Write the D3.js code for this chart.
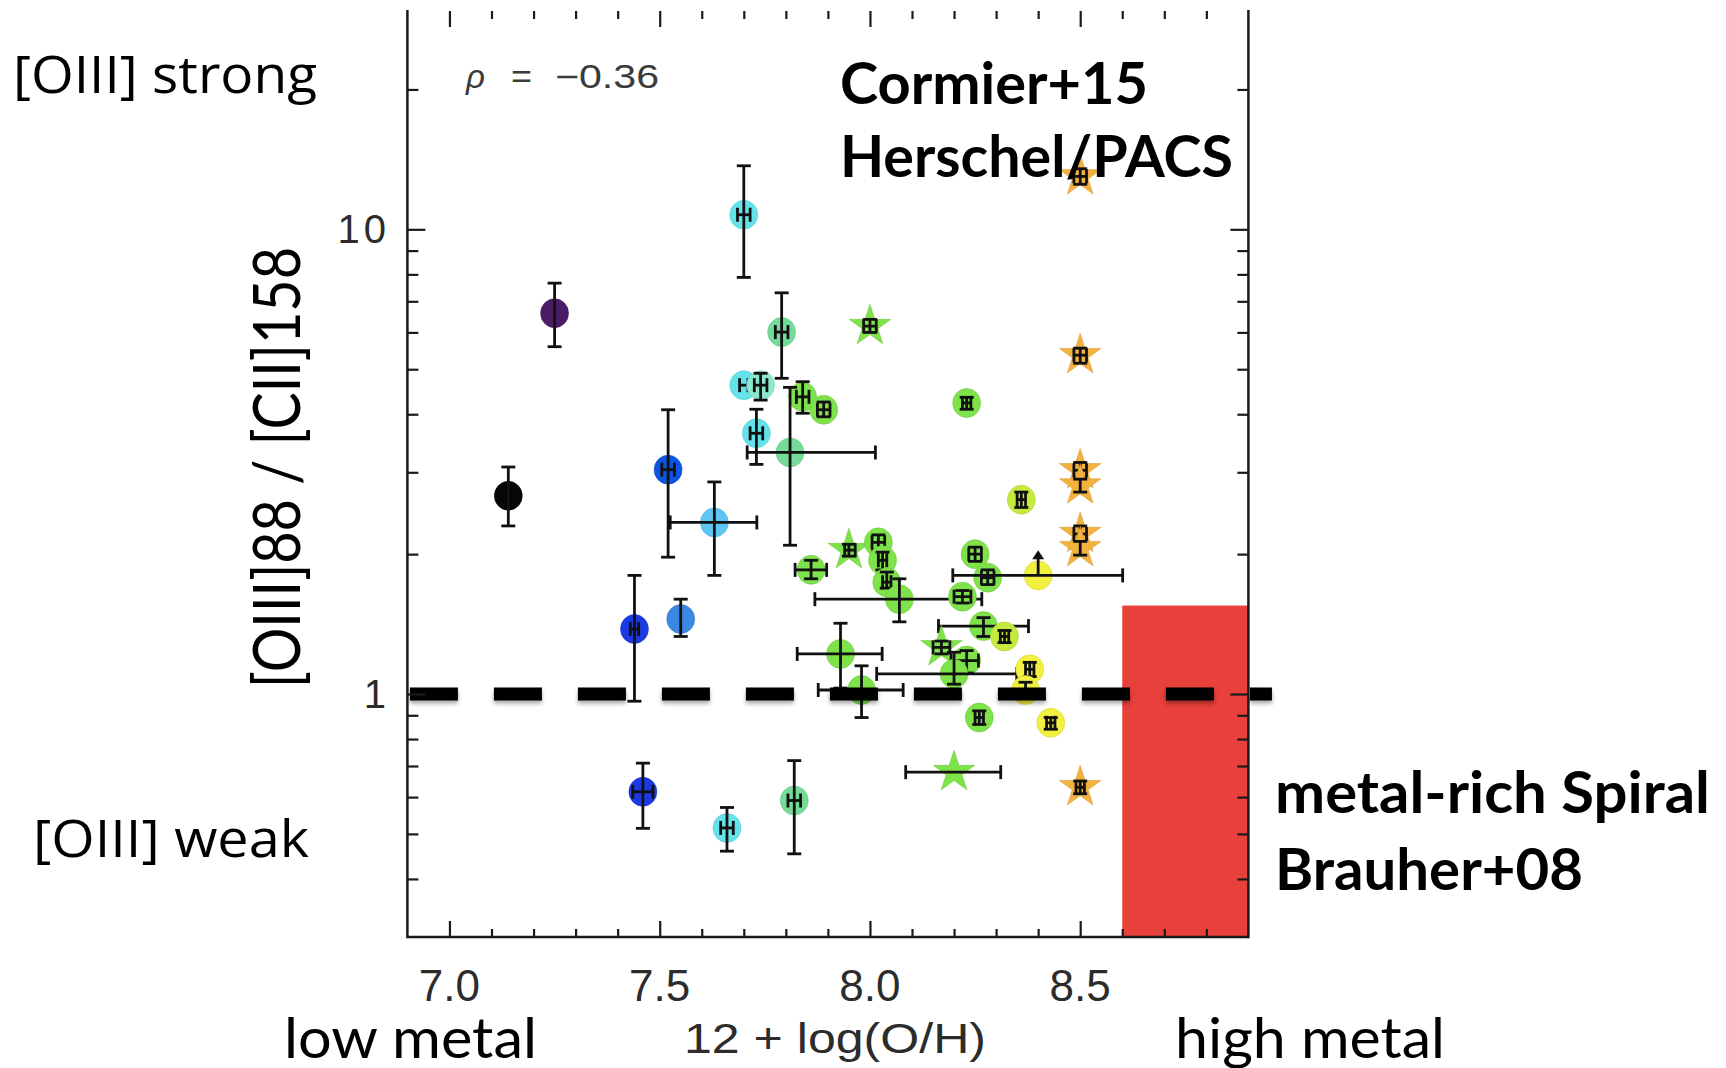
<!DOCTYPE html>
<html>
<head>
<meta charset="utf-8">
<script src="https://cdn.jsdelivr.net/npm/d3@7"></script>
<style>
  body { margin: 0; background: #fff; }
  svg { display: block; }
</style>
</head>
<body>
<svg id="chart"></svg>
<script>
// metallicity 12+log(O/H) of each galaxy
const galaxyX = [7.14, 7.25, 7.70, 8.00, 8.50, 8.50, 7.79, 7.70, 7.74, 7.84,
                 7.89, 8.23, 7.73, 7.81, 7.52, 7.63, 8.36, 8.50, 8.50, 8.50,
                 8.50, 7.95, 8.02, 8.03, 8.04, 8.07, 8.25, 8.28, 8.40, 8.22,
                 7.86, 8.27, 8.32, 7.93, 8.17, 8.23, 8.20, 8.38, 7.98, 8.37,
                 8.26, 8.43, 8.20, 8.50, 7.44, 7.55, 7.46, 7.66, 7.82];
// [OIII]88 / [CII]158 ratio
const ratioY = [2.67, 6.60, 10.75, 6.19, 5.36, 13.0, 6.01, 4.62, 4.62, 4.36,
                4.09, 4.23, 3.64, 3.31, 3.04, 2.34, 2.62, 3.03, 2.81, 2.21,
                2.06, 2.04, 2.12, 1.94, 1.74, 1.60, 2.00, 1.78, 1.80, 1.62,
                1.85, 1.40, 1.33, 1.22, 1.26, 1.18, 1.105, 1.13, 1.02, 1.02,
                0.89, 0.867, 0.679, 0.63, 1.38, 1.45, 0.616, 0.515, 0.59];
const ratioLo = [2.30, 5.59, 7.88, 6.00, 5.15, 12.5, 4.78, null, 4.29, 4.02,
                 3.95, 4.10, 3.12, 2.09, 1.97, 1.80, 2.52, 2.92, 2.72, 2.12,
                 1.99, 1.98, 2.04, 1.85, 1.69, 1.43, 1.93, 1.72, null, 1.57,
                 1.77, 1.33, 1.29, 1.03, 1.22, 1.11, 1.05, 1.09, 0.89, 0.98,
                 0.86, 0.84, null, 0.61, 0.965, 1.33, 0.514, 0.459, 0.453];
const ratioHi = [3.08, 7.66, 13.7, 6.40, 5.55, 13.5, 7.30, null, 4.90, 4.70,
                 4.25, 4.35, 4.10, 4.57, 4.09, 2.86, 2.72, 3.15, 2.90, 2.30,
                 2.13, 2.10, 2.20, 2.02, 1.83, 1.77, 2.07, 1.85, null, 1.67,
                 1.94, 1.46, 1.37, 1.42, 1.30, 1.24, 1.23, 1.17, 1.15, 1.06,
                 0.92, 0.89, null, 0.65, 1.80, 1.60, 0.71, 0.57, 0.719];
const metalLo = [null, null, 7.685, 7.985, 8.485, 8.485, 7.775, 7.69, 7.725, 7.825,
                 7.875, 8.22, 7.715, 7.708, 7.505, 7.525, 8.35, 8.485, null, 8.485,
                 null, 7.94, 8.005, 8.02, 8.03, 7.869, 8.235, 8.265, 8.197, 8.20,
                 7.822, 8.163, 8.31, 7.827, 8.15, 8.193, 8.016, 8.37, 7.877, null,
                 8.25, 8.42, 8.085, 8.49, 7.43, null, 7.436, 7.645, 7.805];
const metalHi = [null, null, 7.715, 8.015, 8.515, 8.515, 7.805, 7.71, 7.755, 7.855,
                 7.905, 8.24, 7.745, 8.013, 7.535, 7.731, 8.37, 8.515, null, 8.515,
                 null, 7.965, 8.035, 8.04, 8.05, 8.266, 8.265, 8.295, 8.601, 8.24,
                 7.897, 8.377, 8.33, 8.029, 8.19, 8.258, 8.349, 8.39, 8.079, null,
                 8.27, 8.44, 8.311, 8.51, 7.45, null, 7.484, 7.675, 7.835];
const markShape = ['circle', 'circle', 'circle', 'star', 'star', 'star', 'circle', 'circle', 'circle', 'circle',
                   'circle', 'circle', 'circle', 'circle', 'circle', 'circle', 'circle', 'star', 'star', 'star',
                   'star', 'star', 'circle', 'circle', 'circle', 'circle', 'circle', 'circle', 'circle', 'circle',
                   'circle', 'circle', 'circle', 'circle', 'star', 'circle', 'circle', 'circle', 'circle', 'circle',
                   'circle', 'circle', 'star', 'star', 'circle', 'circle', 'circle', 'circle', 'circle'];
const colorGroup = ['black', 'purple', 'cyan', 'green', 'orange', 'orange', 'mint', 'cyan', 'aqua', 'green',
                    'green', 'green', 'cyan', 'mint', 'blue', 'sky', 'lime', 'orange', 'orange', 'orange',
                    'orange', 'green', 'green', 'green', 'green', 'green', 'green', 'green', 'yellow', 'green',
                    'green', 'green', 'lime', 'green', 'green', 'green', 'green', 'yellow', 'green', 'yellow',
                    'green', 'yellow', 'green', 'orange', 'navy', 'azure', 'navy', 'cyan', 'mint'];
// index of the point that is a lower limit, and the value its arrow reaches
const lowerLimitIndex = [28];
const lowerLimitTo = [2.04];

// metal-rich spiral region (Brauher+08)
const spiralX = [8.6, 8.9];
const spiralY = [0.3, 1.55];
const equalRatio = 1;

const xMajor = [7.0, 7.5, 8.0, 8.5];
const xMinor = [7.1, 7.2, 7.3, 7.4, 7.6, 7.7, 7.8, 7.9, 8.1, 8.2, 8.3, 8.4, 8.6, 8.7, 8.8];
const yMajor = [1, 10];
const yMinor = [0.4, 0.5, 0.6, 0.7, 0.8, 0.9, 2, 3, 4, 5, 6, 7, 8, 9, 20];

const palette = {
  black: '#060606', purple: '#4a1c66', navy: '#1c3ae2', blue: '#0c55e2',
  azure: '#3a88e2', sky: '#5ec6f2', cyan: '#64e2ea', aqua: '#8ae8cc',
  mint: '#74dc98', green: '#7ee24a', lime: '#c4ea3c', yellow: '#f2f040',
  orange: '#f3b13e'
};

const width = 1726, height = 1068;
const svg = d3.select('#chart').attr('width', width).attr('height', height);

const x = d3.scaleLinear().domain([6.9, 8.9]).range([407.4, 1248.4]);
const y = d3.scaleLog().domain([0.3, 29.5]).range([937, 11]);

const defs = svg.append('defs');
const shadow = defs.append('filter').attr('id', 'shadow')
  .attr('filterUnits', 'userSpaceOnUse')
  .attr('x', 0).attr('y', 0).attr('width', width).attr('height', height);
shadow.append('feDropShadow').attr('dx', 0).attr('dy', 3).attr('stdDeviation', 2)
  .attr('flood-color', '#000').attr('flood-opacity', 0.35);

// red box
svg.append('rect')
  .attr('x', x(spiralX[0])).attr('y', y(spiralY[1]))
  .attr('width', x(spiralX[1]) - x(spiralX[0]))
  .attr('height', y(spiralY[0]) - y(spiralY[1]))
  .attr('fill', '#e8403a');

// points
const pts = d3.range(galaxyX.length);
const cap = 7;
const marks = svg.append('g');
const star = d3.symbol(d3.symbolStar).size(540);

pts.forEach(i => {
  const cx = x(galaxyX[i]), cy = y(ratioY[i]);
  const col = palette[colorGroup[i]];
  const g = marks.append('g');
  if (markShape[i] === 'star') {
    g.append('path').attr('d', star())
      .attr('transform', `translate(${cx},${cy})`)
      .attr('fill', col).attr('stroke', d3.color(col).darker(0.4)).attr('stroke-width', 1).attr('stroke-opacity', 0.5);
  } else {
    g.append('ellipse').attr('cx', cx).attr('cy', cy).attr('rx', 14).attr('ry', 14.5)
      .attr('fill', col).attr('stroke', d3.color(col).darker(0.4)).attr('stroke-width', 1).attr('stroke-opacity', 0.5);
  }
  const eb = g.append('g').attr('stroke', '#111').attr('stroke-width', 2.8).attr('fill', 'none');
  if (ratioLo[i] != null) {
    const y0 = y(ratioLo[i]), y1 = y(ratioHi[i]);
    eb.append('line').attr('x1', cx).attr('x2', cx).attr('y1', y0).attr('y2', y1);
    eb.append('line').attr('x1', cx - cap).attr('x2', cx + cap).attr('y1', y0).attr('y2', y0);
    eb.append('line').attr('x1', cx - cap).attr('x2', cx + cap).attr('y1', y1).attr('y2', y1);
  }
  if (metalLo[i] != null) {
    const x0 = x(metalLo[i]), x1 = x(metalHi[i]);
    eb.append('line').attr('x1', x0).attr('x2', x1).attr('y1', cy).attr('y2', cy);
    eb.append('line').attr('x1', x0).attr('x2', x0).attr('y1', cy - cap).attr('y2', cy + cap);
    eb.append('line').attr('x1', x1).attr('x2', x1).attr('y1', cy - cap).attr('y2', cy + cap);
  }
});

// lower-limit arrows
lowerLimitIndex.forEach((i, k) => {
  const cx = x(galaxyX[i]), y0 = y(ratioY[i]), y1 = y(lowerLimitTo[k]);
  marks.append('line').attr('x1', cx).attr('x2', cx).attr('y1', y0).attr('y2', y1 + 4)
    .attr('stroke', '#111').attr('stroke-width', 2.8);
  marks.append('path')
    .attr('d', `M${cx - 6},${y1 + 9}L${cx},${y1}L${cx + 6},${y1 + 9}Z`)
    .attr('fill', '#111');
});

// dashed ratio = 1 line
svg.append('line')
  .attr('x1', x(6.906)).attr('x2', x(8.956))
  .attr('y1', y(equalRatio)).attr('y2', y(equalRatio))
  .attr('stroke', '#000').attr('stroke-width', 13)
  .attr('stroke-dasharray', '48 36')
  .attr('filter', 'url(#shadow)');

// frame and ticks
const frame = svg.append('g').attr('stroke', '#1a1a1a').attr('stroke-width', 2.5);
const plotTop = y.range()[1], plotBottom = y.range()[0];
const plotLeft = x.range()[0], plotRight = x.range()[1];
frame.append('line').attr('x1', plotLeft).attr('x2', plotLeft).attr('y1', plotTop - 1).attr('y2', plotBottom + 1.2);
frame.append('line').attr('x1', plotRight).attr('x2', plotRight).attr('y1', plotTop - 1).attr('y2', plotBottom + 1.2);
frame.append('line').attr('x1', plotLeft).attr('x2', plotRight).attr('y1', plotBottom).attr('y2', plotBottom);

function addAxis(axis, tickVals, size, transform) {
  const g = svg.append('g').attr('transform', transform)
    .call(axis.tickValues(tickVals).tickSize(size).tickFormat(''));
  g.select('.domain').remove();
  g.selectAll('line').attr('stroke', '#1a1a1a').attr('stroke-width', 2.2);
}
addAxis(d3.axisBottom(x), xMajor, -16, `translate(0,${plotBottom})`);
addAxis(d3.axisBottom(x), xMinor, -8, `translate(0,${plotBottom})`);
addAxis(d3.axisTop(x), xMajor, -16, `translate(0,${plotTop})`);
addAxis(d3.axisTop(x), xMinor, -8, `translate(0,${plotTop})`);
addAxis(d3.axisLeft(y), yMajor, -18, `translate(${plotLeft},0)`);
addAxis(d3.axisLeft(y), yMinor, -11, `translate(${plotLeft},0)`);
addAxis(d3.axisRight(y), yMajor, -18, `translate(${plotRight},0)`);
addAxis(d3.axisRight(y), yMinor, -11, `translate(${plotRight},0)`);

// tick labels
const helv = "'Liberation Sans', Arial, sans-serif";
svg.append('g').selectAll('text').data(xMajor).join('text')
  .attr('x', d => x(d)).attr('y', 1001)
  .attr('text-anchor', 'middle')
  .attr('font-family', helv).attr('font-size', 44).attr('fill', '#2c2c2c')
  .text(d => d3.format('.1f')(d));
svg.append('g').selectAll('text').data(yMajor).join('text')
  .attr('x', 390).attr('y', d => y(d) + 14)
  .attr('text-anchor', 'end')
  .attr('font-family', helv).attr('font-size', 40).attr('fill', '#2c2c2c')
  .attr('letter-spacing', 4)
  .text(d => d);

// axis titles and notes
function note(txt, xPos, yPos, opts) {
  const t = svg.append('text').attr('x', xPos).attr('y', yPos)
    .attr('font-family', opts.family).attr('font-size', opts.size)
    .attr('font-weight', opts.weight || 'normal').attr('fill', opts.fill || '#000')
    .attr('font-style', opts.style || 'normal')
    .text(txt);
  if (opts.len) t.attr('textLength', opts.len).attr('lengthAdjust', 'spacingAndGlyphs');
  if (opts.anchor) t.attr('text-anchor', opts.anchor);
  if (opts.rotate) t.attr('transform', opts.rotate);
  return t;
}
note('12 + log(O/H)', 684, 1053, { family: helv, size: 42, fill: '#2c2c2c', len: 302 });
note('[OIII]88 / [CII]158', 0, 0, { family: 'Lato, sans-serif', size: 66, len: 441, anchor: 'middle',
  rotate: 'translate(300,467.5) rotate(-90)' });

// correlation coefficient, spaced like the original
const rhoFont = { family: helv, size: 33, fill: '#3a3a3a' };
note('ρ', 466, 88, { ...rhoFont, style: 'italic' });
note('=', 511, 88, { ...rhoFont, len: 21 });
note('−0.36', 555, 88, { ...rhoFont, len: 104 });

const sideFont = { family: "'Open Sans', sans-serif", size: 51 };
note('[OIII] strong', 13, 93, { ...sideFont, len: 304 });
note('[OIII] weak', 33, 857, { ...sideFont, len: 276 });

const bold = { family: 'Lato, sans-serif', size: 57, weight: 'bold' };
note('Cormier+15', 840, 103.5, { ...bold, len: 308 });
note('Herschel/PACS', 840, 177, { ...bold, len: 393 });
note('metal-rich Spiral', 1275, 813, { ...bold, len: 435 });
note('Brauher+08', 1275, 890, { ...bold, len: 308 });

const plain = { family: 'Lato, sans-serif', size: 56 };
note('low metal', 284, 1058, { ...plain, len: 253 });
note('high metal', 1175, 1058, { ...plain, len: 270 });
</script>
</body>
</html>
